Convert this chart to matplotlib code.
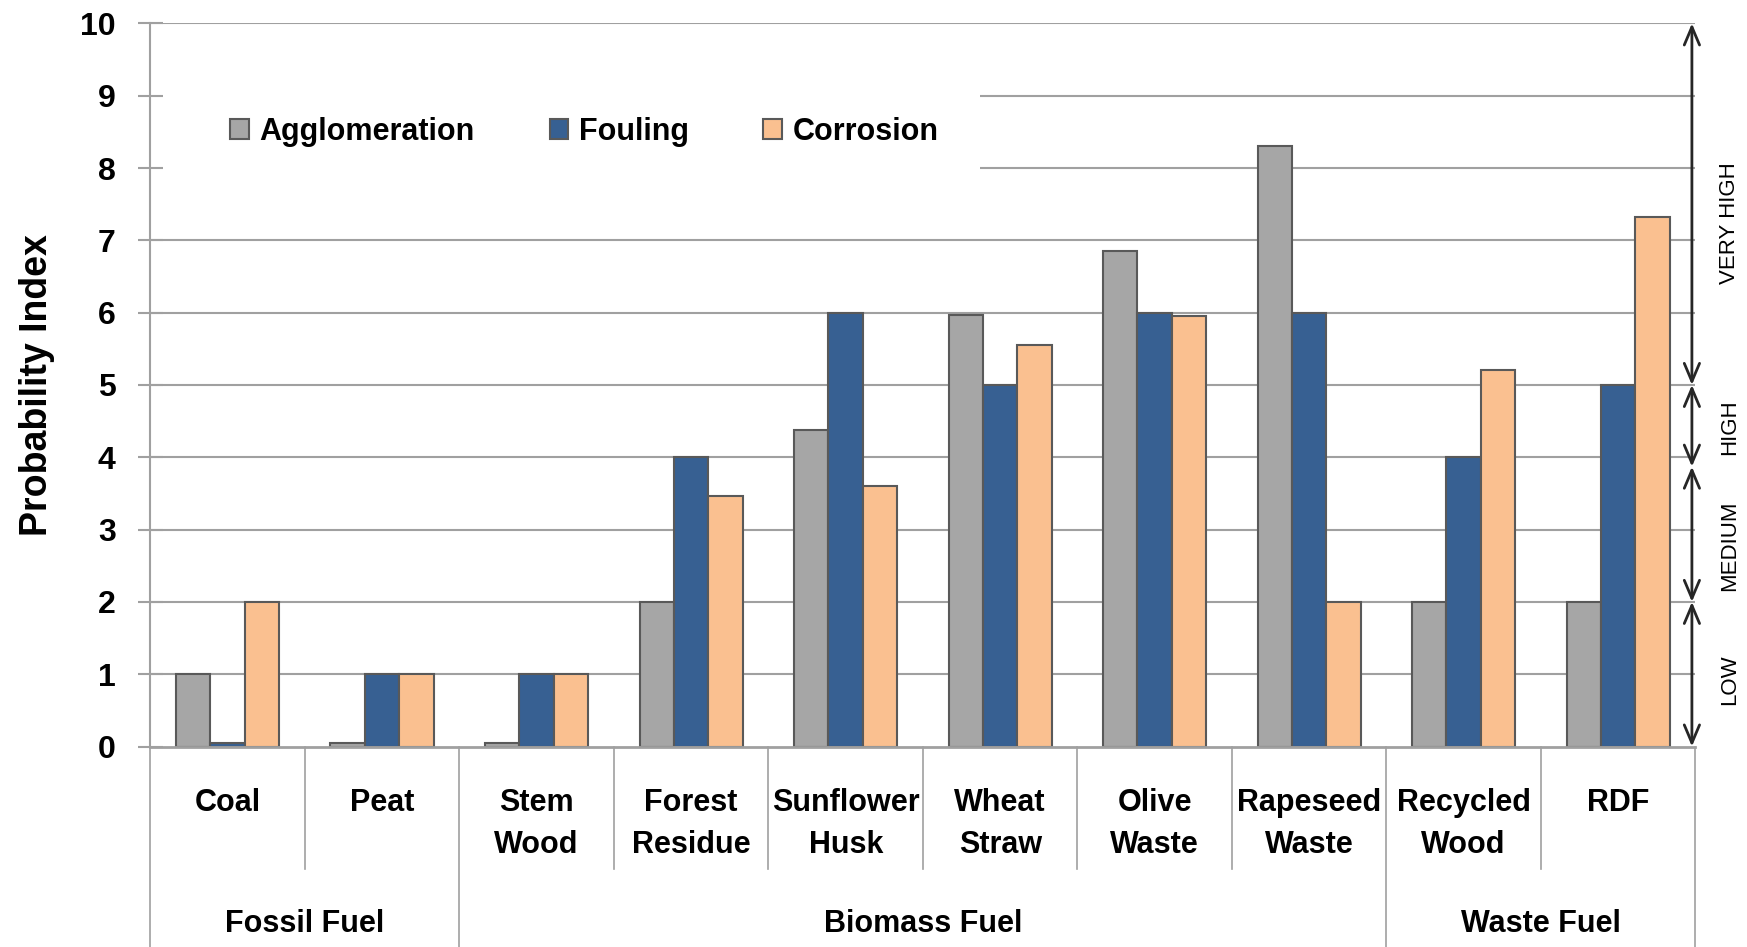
import matplotlib
matplotlib.use('Agg')
import matplotlib.pyplot as plt
from matplotlib import font_manager
from matplotlib.patches import Rectangle
import numpy as np

# data
categories = ['Coal', 'Peat', 'Stem\nWood', 'Forest\nResidue', 'Sunflower\nHusk',
              'Wheat\nStraw', 'Olive\nWaste', 'Rapeseed\nWaste', 'Recycled\nWood', 'RDF']
groups = ['Fossil Fuel', 'Biomass Fuel', 'Waste Fuel']
group_sizes = [2, 6, 2]

series_names = ['Agglomeration', 'Fouling', 'Corrosion']
agglomeration = [1, 0.05, 0.05, 2, 4.38, 5.97, 6.85, 8.3, 2, 2]
fouling = [0.05, 1, 1, 4, 6, 5, 6, 6, 4, 5]
corrosion = [2, 1, 1, 3.47, 3.6, 5.55, 5.95, 2, 5.2, 7.32]

risk_levels = ['LOW', 'MEDIUM', 'HIGH', 'VERY HIGH']
risk_bounds = [0, 2, 3.87, 5, 10]
risk_label_y = [0.92, 2.77, 4.42, 7.24]
yticks = list(range(0, 11))

# font: narrow one if there is one (closest to Calibri)
names = set(f.name for f in font_manager.fontManager.ttflist)
main_font = 'Liberation Sans Narrow' if 'Liberation Sans Narrow' in names else 'Liberation Sans'
plt.rcParams['font.family'] = [main_font, 'DejaVu Sans']

colors = ['#A6A6A6', '#376092', '#FAC090']
edge_c = '#595959'
grid_c = '#A0A0A0'

fig = plt.figure(figsize=(17.47, 9.47), dpi=100)
ax = fig.add_subplot(111)
fig.subplots_adjust(left=0.0861, right=0.9705, top=0.9753, bottom=0.2117)

x = np.arange(len(categories))
w = 0.223
for i, (vals, name, c) in enumerate(zip([agglomeration, fouling, corrosion], series_names, colors)):
    ax.bar(x + (i - 1) * w, vals, w, color=c, edgecolor=edge_c, linewidth=1.5,
           label=name, zorder=2)

ax.set_xlim(-0.5, len(categories) - 0.5)
ax.set_ylim(0, 10)

# gridlines
for v in yticks[1:]:
    ax.axhline(v, color=grid_c, lw=1.5, zorder=0.5)

# white box behind the legend hides the gridlines
ax.add_patch(Rectangle((0, 7.55), 0.537, 1.9, transform=ax.get_yaxis_transform(),
                       facecolor='white', edgecolor='none', zorder=0.8))

ax.spines['top'].set_visible(False)
ax.spines['right'].set_visible(False)
ax.spines['left'].set_color(grid_c)
ax.spines['left'].set_linewidth(1.5)
ax.spines['bottom'].set_color(grid_c)
ax.spines['bottom'].set_linewidth(2)

ax.set_yticks(yticks)
ax.tick_params(axis='y', direction='inout', length=18, width=1.5, color=grid_c,
               pad=16, labelsize=23)
for lbl in ax.get_yticklabels():
    lbl.set_fontweight('bold')
ax.set_xticks([])

ax.text(-0.0735, 0.5, 'Probability Index', transform=ax.transAxes, rotation=90,
        ha='center', va='center', fontsize=27, fontweight='bold')

ax.legend(loc='center left', bbox_to_anchor=(0.0518, 8.5), bbox_transform=ax.get_yaxis_transform(),
          ncol=3, frameon=False, prop={'weight': 'bold', 'size': 22},
          handlelength=0.6, handleheight=0.6, handletextpad=0.35, columnspacing=2.45,
          borderpad=0, borderaxespad=0)

# category labels below the axis
trans = ax.get_xaxis_transform()
for xi, cat in zip(x, categories):
    lines = cat.split('\n')
    for txt, yy in zip(lines, [-0.0787, -0.1368]):
        ax.text(xi, yy, txt, transform=trans, ha='center', va='center',
                fontsize=22, fontweight='bold')

# separators and group labels
edges = [-0.5]
for s in group_sizes:
    edges.append(edges[-1] + s)
for b in np.arange(-0.5, len(categories)):
    bottom = -0.28 if b in edges else -0.1694
    ax.plot([b, b], [0, bottom], transform=trans, color=grid_c, lw=1.2, clip_on=False)
for g, a, b in zip(groups, edges[:-1], edges[1:]):
    ax.text((a + b) / 2, -0.246, g, transform=trans, ha='center', va='center',
            fontsize=22, fontweight='bold')

# risk level arrows on the right
yt = ax.get_yaxis_transform()
for lo, hi, lab, ly in zip(risk_bounds[:-1], risk_bounds[1:], risk_levels, risk_label_y):
    ax.annotate('', xy=(0.9977, lo), xytext=(0.9977, hi), xycoords=yt, textcoords=yt,
                arrowprops=dict(arrowstyle='<->,head_length=1.3,head_width=0.55',
                                color='#262626', lw=2, shrinkA=0, shrinkB=0))
    ax.text(1.0223, ly, lab, transform=yt, rotation=90, ha='center', va='center',
            fontsize=16)

fig.savefig('out.png', dpi=100)
